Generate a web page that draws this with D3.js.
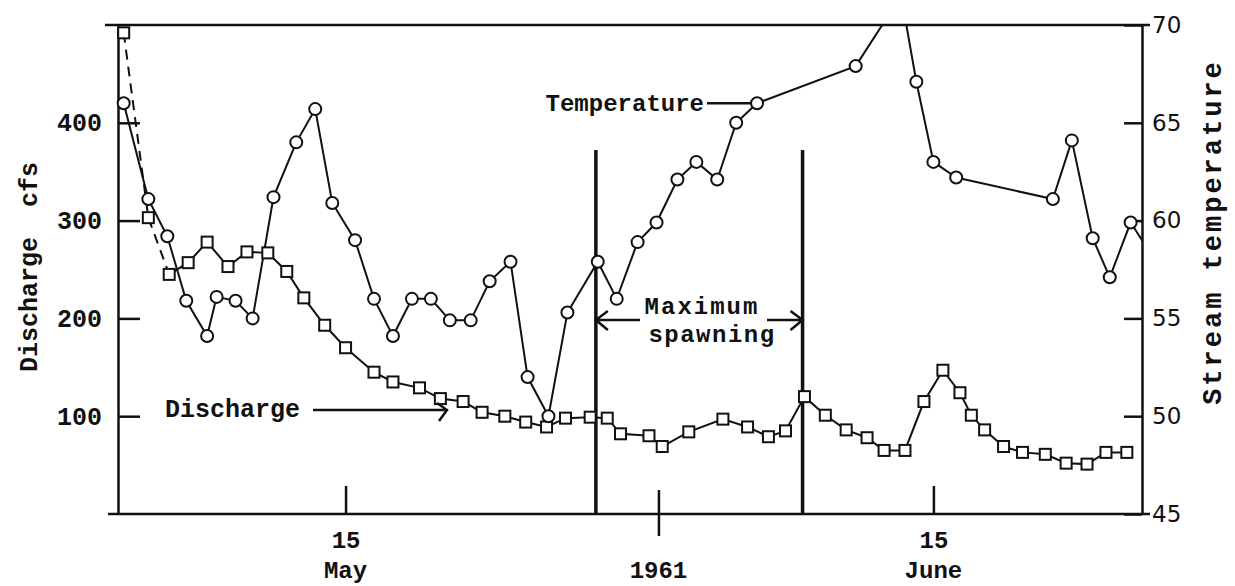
<!DOCTYPE html>
<html>
<head>
<meta charset="utf-8">
<script src="https://cdn.jsdelivr.net/npm/d3@7"></script>
<style>
body { margin: 0; background: #fff; }
.mono { font-family: "Liberation Mono", "DejaVu Sans Mono", monospace; font-weight: bold; fill: #111; }
.sans { font-family: "DejaVu Sans", sans-serif; fill: #111; }
</style>
</head>
<body>
<svg id="chart" width="1235" height="586"></svg>
<script>
// days counted from May 1 (May 15 = 15, June 15 = 46)
const tempDays = [3.3, 4.6, 5.6, 6.6, 7.7, 8.2, 9.2, 10.1, 11.2, 12.4, 13.4, 14.3, 15.5, 16.5, 17.5,
  18.5, 19.5, 20.5, 21.6, 22.6, 23.7, 24.6, 25.7, 26.7, 28.3, 29.3, 30.4, 31.4, 32.5, 33.5,
  34.6, 35.6, 36.7, 41.9, 44.3, 45.1, 46.0, 47.2, 52.3, 53.3, 54.4, 55.3, 56.4, 57.4];
const tempValues = [66.0, 61.1, 59.2, 55.9, 54.1, 56.1, 55.9, 55.0, 61.2, 64.0, 65.7, 60.9, 59.0, 56.0, 54.1,
  56.0, 56.0, 54.9, 54.9, 56.9, 57.9, 52.0, 50.0, 55.3, 57.9, 56.0, 58.9, 59.9, 62.1, 63.0,
  62.1, 65.0, 66.0, 67.9, 71.5, 67.1, 63.0, 62.2, 61.1, 64.1, 59.1, 57.1, 59.9, 58.4];

const flowDays = [3.3, 4.6, 5.7, 6.7, 7.7, 8.8, 9.8, 10.9, 11.9, 12.8, 13.9, 15.0, 16.5, 17.5, 18.9,
  20.0, 21.2, 22.2, 23.4, 24.5, 25.6, 26.6, 27.9, 28.8, 29.5, 31.0, 31.7, 33.1, 34.9, 36.2,
  37.3, 38.2, 39.2, 40.3, 41.4, 42.5, 43.4, 44.5, 45.5, 46.5, 47.4, 48.0, 48.7, 49.7, 50.7,
  51.9, 53.0, 54.1, 55.1, 56.2];
const flowValues = [492, 303, 245, 257, 278, 253, 268, 267, 248, 221, 193, 170, 145, 135, 129,
  118, 115, 104, 100, 94, 89, 98, 99, 98, 82, 80, 69, 84, 97, 89,
  79, 85, 120, 101, 86, 78, 65, 65, 115, 147, 124, 101, 86, 69, 63,
  61, 52, 51, 63, 63];

const flowTicks = [100, 200, 300, 400];
const tempTicks = [45, 50, 55, 60, 65, 70];
const dateTicks = [15, 31.5, 46];
const dateTickLabels = ["15", "", "15"];
const monthLabels = ["May", "1961", "June"];
const spawnDays = [28.2, 39.1];

const svg = d3.select("#chart"),
    margin = {top: 25, right: 93, bottom: 72, left: 118},
    width = 1235 - margin.left - margin.right,
    height = 586 - margin.top - margin.bottom;

const g = svg.append("g").attr("transform", "translate(" + margin.left + "," + margin.top + ")");

const x = d3.scaleLinear().domain([3, 57]).range([0, width]),
    yFlow = d3.scaleLinear().domain([0, 500]).range([height, 0]),
    yTemp = d3.scaleLinear().domain([45, 70]).range([height, 0]);

svg.append("defs").append("clipPath").attr("id", "plotClip")
  .append("rect").attr("x", -15).attr("y", 0).attr("width", width + 15).attr("height", height + 20);

// frame top line
g.append("line")
  .attr("x1", -13).attr("x2", width + 8).attr("y1", 0).attr("y2", 0)
  .attr("stroke", "#111").attr("stroke-width", 2.5);

// left axis
const leftAxis = g.append("g")
  .call(d3.axisLeft(yFlow).tickValues(flowTicks).tickSize(-22).tickSizeOuter(0).tickPadding(16));
leftAxis.select(".domain").attr("stroke", "#111").attr("stroke-width", 2.5);
leftAxis.selectAll(".tick line").attr("stroke", "#111").attr("stroke-width", 2.5);
leftAxis.selectAll("text").attr("class", "mono").style("font-size", "25px");

// right axis
const rightAxis = g.append("g")
  .attr("transform", "translate(" + width + ",0)")
  .call(d3.axisRight(yTemp).tickValues(tempTicks).tickSize(-18).tickSizeOuter(0).tickPadding(10));
rightAxis.select(".domain").attr("stroke", "#111").attr("stroke-width", 2.5);
rightAxis.selectAll(".tick line").attr("stroke", "#111").attr("stroke-width", 2.5);
rightAxis.selectAll("text").attr("class", "sans").style("font-size", "23px");

// bottom axis
const bottomAxis = g.append("g")
  .attr("transform", "translate(0," + height + ")")
  .call(d3.axisBottom(x).tickValues(dateTicks).tickSize(-28).tickSizeOuter(0)
    .tickFormat((d, i) => dateTickLabels[i]));
bottomAxis.select(".domain").attr("d", "M-10,0H" + (width + 8)).attr("stroke", "#111").attr("stroke-width", 2.5);
bottomAxis.selectAll(".tick line").attr("stroke", "#111").attr("stroke-width", 2.5)
  .filter(d => d === 31.5).attr("y1", 22).attr("y2", -24);
bottomAxis.selectAll("text").attr("class", "mono").style("font-size", "24px")
  .attr("y", 34).attr("dy", 0);

g.selectAll(".month")
  .data(monthLabels)
  .join("text")
  .attr("class", "mono month")
  .attr("x", (d, i) => x(dateTicks[i]))
  .attr("y", height + 64)
  .attr("text-anchor", "middle")
  .style("font-size", "24px")
  .text(d => d);

// axis titles
g.append("text")
  .attr("class", "mono")
  .attr("transform", "translate(" + (-81) + "," + 242 + ") rotate(-90)")
  .attr("text-anchor", "middle")
  .style("font-size", "25px")
  .style("white-space", "pre")
  .text("Discharge  cfs");

g.append("text")
  .attr("class", "mono")
  .attr("transform", "translate(" + (width + 79) + "," + 207 + ") rotate(-90)")
  .attr("text-anchor", "middle")
  .style("font-size", "27px")
  .style("letter-spacing", "3px")
  .text("Stream temperature");

// maximum spawning period
g.selectAll(".spawn")
  .data(spawnDays)
  .join("line")
  .attr("class", "spawn")
  .attr("x1", d => x(d)).attr("x2", d => x(d))
  .attr("y1", 125).attr("y2", height)
  .attr("stroke", "#111").attr("stroke-width", 3.5);

const arrowY = 295;
g.append("path")
  .attr("d", "M" + 522 + "," + arrowY + "H" + x(spawnDays[0]) +
    "M" + (x(spawnDays[0]) + 12) + "," + (arrowY - 9) + "L" + x(spawnDays[0]) + "," + arrowY +
    "L" + (x(spawnDays[0]) + 12) + "," + (arrowY + 10))
  .attr("fill", "none").attr("stroke", "#111").attr("stroke-width", 2.5);
g.append("path")
  .attr("d", "M" + 649 + "," + arrowY + "H" + x(spawnDays[1]) +
    "M" + (x(spawnDays[1]) - 12) + "," + (arrowY - 9) + "L" + x(spawnDays[1]) + "," + arrowY +
    "L" + (x(spawnDays[1]) - 12) + "," + (arrowY + 10))
  .attr("fill", "none").attr("stroke", "#111").attr("stroke-width", 2.5);

g.append("text").attr("class", "mono")
  .attr("x", 584).attr("y", 289).attr("text-anchor", "middle")
  .style("font-size", "24px").style("letter-spacing", "2px")
  .text("Maximum");
g.append("text").attr("class", "mono")
  .attr("x", 594).attr("y", 317).attr("text-anchor", "middle")
  .style("font-size", "24px").style("letter-spacing", "1.5px")
  .text("spawning");

// data
const plot = g.append("g").attr("clip-path", "url(#plotClip)");

const tempPts = d3.zip(tempDays, tempValues);
const flowPts = d3.zip(flowDays, flowValues);

const tempLine = d3.line().x(d => x(d[0])).y(d => yTemp(d[1]));
const flowLine = d3.line().x(d => x(d[0])).y(d => yFlow(d[1]));

plot.append("path")
  .attr("d", flowLine(flowPts.slice(0, 3)))
  .attr("fill", "none").attr("stroke", "#111").attr("stroke-width", 2)
  .attr("stroke-dasharray", "10,7");
plot.append("path")
  .attr("d", flowLine(flowPts.slice(2)))
  .attr("fill", "none").attr("stroke", "#111").attr("stroke-width", 2);

plot.append("path")
  .attr("d", tempLine(tempPts))
  .attr("fill", "none").attr("stroke", "#111").attr("stroke-width", 2);

plot.selectAll(".sq")
  .data(flowPts)
  .join("rect")
  .attr("class", "sq")
  .attr("x", d => x(d[0]) - 5.5)
  .attr("y", d => yFlow(d[1]) - 5.5)
  .attr("width", 11).attr("height", 11)
  .attr("fill", "#fff").attr("stroke", "#111").attr("stroke-width", 2);

plot.selectAll(".pt")
  .data(tempPts)
  .join("circle")
  .attr("class", "pt")
  .attr("cx", d => x(d[0]))
  .attr("cy", d => yTemp(d[1]))
  .attr("r", 6)
  .attr("fill", "#fff").attr("stroke", "#111").attr("stroke-width", 2);

// labels for the series
const tLab = tempPts[32];
g.append("text").attr("class", "mono")
  .attr("x", 586).attr("y", 86).attr("text-anchor", "end")
  .style("font-size", "24px")
  .text("Temperature");
g.append("line")
  .attr("x1", 589).attr("x2", x(tLab[0]) - 6)
  .attr("y1", yTemp(tLab[1])).attr("y2", yTemp(tLab[1]))
  .attr("stroke", "#111").attr("stroke-width", 2.5);

g.append("text").attr("class", "mono")
  .attr("x", 47).attr("y", 392)
  .style("font-size", "25px")
  .text("Discharge");
g.append("path")
  .attr("d", "M195,385H329M319,378L329,385L321,396")
  .attr("fill", "none").attr("stroke", "#111").attr("stroke-width", 2.5);
</script>
</body>
</html>
